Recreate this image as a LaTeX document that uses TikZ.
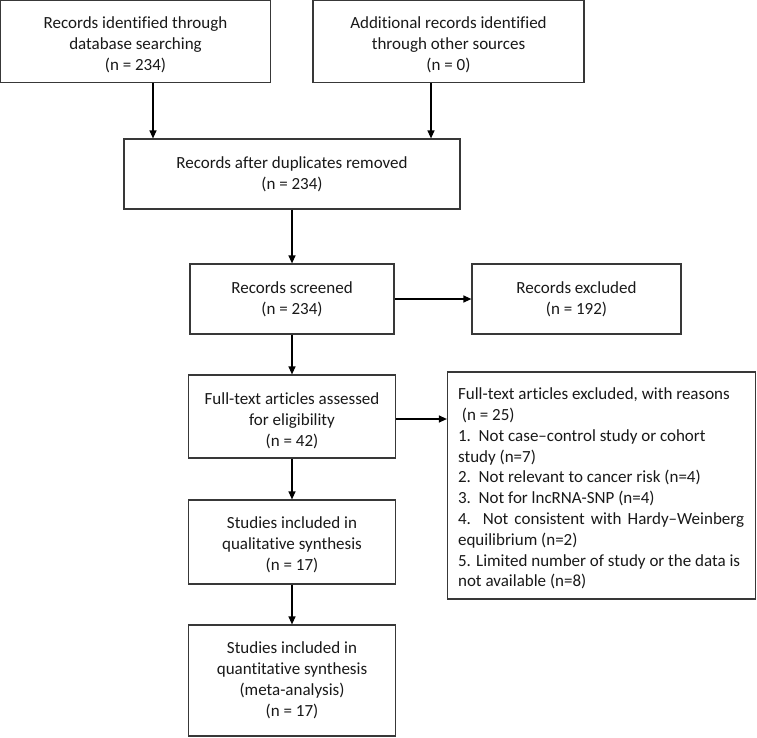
\documentclass[tikz,border=0pt]{standalone}
\usepackage{fontspec}
\setmainfont{Carlito}[Ligatures=NoCommon]
\usetikzlibrary{arrows.meta,calc}
\newcommand\fstrut[1]{\rule{0pt}{#1}}
\begin{document}
\begin{tikzpicture}[x=1pt,y=-1pt,
  box/.style={draw=black!78, line width=1.2pt, align=center, inner sep=0pt,
    font=\fontsize{17}{21}\selectfont, text=black!90},
  txt/.style={align=left, inner sep=0pt, font=\fontsize{17}{20.8}\selectfont, text=black!90},
  arr/.style={line width=1.2pt, -{Triangle[length=8pt,width=7pt]}}]
\useasboundingbox[fill=white] (0,0) rectangle (757,737);
\node[box, minimum width=270pt, minimum height=82pt] (b1) at (135.5,41.5)
  {\fstrut{18.5pt}Records identified through\\database searching\\(n = 234)};
\node[box, minimum width=271pt, minimum height=82pt] (b2) at (448.5,41.5)
  {\fstrut{18.5pt}Additional records identified\\through other sources\\(n = 0)};
\node[box, minimum width=336pt, minimum height=70pt] (b3) at (292,174)
  {Records after duplicates removed\\(n = 234)};
\node[box, minimum width=204pt, minimum height=70pt] (b4) at (292,299)
  {Records screened\\(n = 234)};
\node[box, minimum width=209pt, minimum height=70pt] (b5) at (576.5,299)
  {Records excluded\\(n = 192)};
\node[box, minimum width=207pt, minimum height=83pt] (b6) at (292,416.5)
  {\fstrut{19.5pt}Full-text articles assessed\\for eligibility\\(n = 42)};
\node[box, minimum width=308pt, minimum height=227pt] (b7) at (601.5,485.5) {};
\node[txt, anchor=west] (b7t) at ([xshift=11pt,yshift=-3pt]b7.west)
  {Full-text articles excluded, with reasons\\
   \ (n = 25)\\
   1.\ \ Not case–control study or cohort\\
   study (n=7)\\
   2.\ \ Not relevant to cancer risk (n=4)\\
   3.\ \ Not for lncRNA-SNP (n=4)\\
   \makebox[286pt][s]{4. Not consistent with Hardy–Weinberg}\\
   equilibrium (n=2)\\
   5. Limited number of study or the data is\\
   not available (n=8)};
\node[box, minimum width=207pt, minimum height=84pt] (b8) at (292,542)
  {\fstrut{17.5pt}Studies included in\\qualitative synthesis\\(n = 17)};
\node[box, minimum width=207pt, minimum height=111pt] (b9) at (292,680.5)
  {Studies included in\\quantitative synthesis\\(meta-analysis)\\(n = 17)};
\draw[arr] ([xshift=17.5pt]b1.south) -- ([xshift=17.5pt]b1.south |- b3.north);
\draw[arr] ([xshift=-17.5pt]b2.south) -- ([xshift=-17.5pt]b2.south |- b3.north);
\draw[arr] (b3.south) -- (b4.north);
\draw[arr] (b4.east) -- (b5.west);
\draw[arr] (b4.south) -- (b6.north);
\draw[arr] ([yshift=-2.5pt]b6.east) -- ([yshift=-2.5pt]b6.east -| b7.west);
\draw[arr] (b6.south) -- (b8.north);
\draw[arr] (b8.south) -- (b9.north);
\end{tikzpicture}
\end{document}
